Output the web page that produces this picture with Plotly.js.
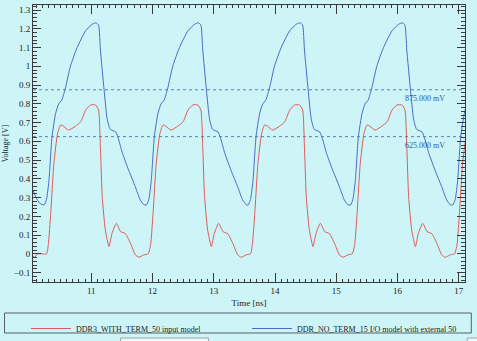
<!DOCTYPE html>
<html>
<head>
<meta charset="utf-8">
<script src="https://cdn.plot.ly/plotly-3.0.1.min.js"></script>
<style>
html,body{margin:0;padding:0;background:#cdf5f7;}
#chart{width:477px;height:341px;}
</style>
</head>
<body>
<div id="chart"></div>
<script>
// Time axis [ns] and voltages [V]
const seriesNames = ["DDR3_WITH_TERM_50 input model", "DDR_NO_TERM_15 I/O model with external 50"];

const redTime = [
  10.05,10.08,10.12,10.27,
  10.30,10.34,10.39,10.45,10.50,10.55,10.63,10.74,10.83,10.91,10.99,11.07,11.12,11.15,11.18,11.23,11.29,11.34,11.41,11.48,11.56,11.64,11.72,11.78,11.86,11.93,
  11.97,12.01,12.06,12.12,12.17,12.22,12.30,12.41,12.50,12.58,12.66,12.74,12.79,12.82,12.85,12.90,12.96,13.01,13.08,13.15,13.23,13.31,13.39,13.45,13.53,13.60,
  13.63,13.67,13.72,13.78,13.83,13.88,13.96,14.07,14.16,14.24,14.32,14.40,14.45,14.48,14.51,14.56,14.62,14.67,14.74,14.81,14.89,14.97,15.05,15.11,15.19,15.26,
  15.30,15.34,15.39,15.45,15.50,15.55,15.63,15.74,15.83,15.91,15.99,16.07,16.12,16.15,16.18,16.23,16.29,16.34,16.41,16.48,16.56,16.64,16.72,16.78,16.86,16.93,
  16.97,17.01,17.06,17.12
];
const redVolt = [
  -0.01,-0.02,0.0,0.0,
  0.05,0.22,0.48,0.64,0.687,0.68,0.66,0.68,0.705,0.767,0.794,0.794,0.767,0.57,0.305,0.128,0.039,0.11,0.163,0.119,0.107,0.057,-0.005,-0.018,-0.005,0.0,
  0.05,0.22,0.48,0.64,0.687,0.68,0.66,0.68,0.705,0.767,0.794,0.794,0.767,0.57,0.305,0.128,0.039,0.11,0.163,0.119,0.107,0.057,-0.005,-0.018,-0.005,0.0,
  0.05,0.22,0.48,0.64,0.687,0.68,0.66,0.68,0.705,0.767,0.794,0.794,0.767,0.57,0.305,0.128,0.039,0.11,0.163,0.119,0.107,0.057,-0.005,-0.018,-0.005,0.0,
  0.05,0.22,0.48,0.64,0.687,0.68,0.66,0.68,0.705,0.767,0.794,0.794,0.767,0.57,0.305,0.128,0.039,0.11,0.163,0.119,0.107,0.057,-0.005,-0.018,-0.005,0.0,
  0.05,0.22,0.48,0.64
];

const blueTime = [
  10.05,10.10,10.16,
  10.23,10.27,10.31,10.36,10.42,10.47,10.52,10.58,10.66,10.77,10.91,11.02,11.08,11.12,11.15,11.21,11.26,11.31,11.40,11.45,11.51,11.61,11.72,11.80,11.86,
  11.90,11.94,11.98,12.03,12.09,12.14,12.19,12.25,12.33,12.44,12.58,12.69,12.75,12.79,12.82,12.88,12.93,12.98,13.07,13.12,13.18,13.28,13.39,13.47,13.53,
  13.56,13.60,13.64,13.69,13.75,13.80,13.85,13.91,13.99,14.10,14.24,14.35,14.41,14.45,14.48,14.54,14.59,14.64,14.73,14.78,14.84,14.94,15.05,15.13,15.19,
  15.23,15.27,15.31,15.36,15.42,15.47,15.52,15.58,15.66,15.77,15.91,16.02,16.08,16.12,16.15,16.21,16.26,16.31,16.40,16.45,16.51,16.61,16.72,16.80,16.86,
  16.90,16.94,16.98,17.03,17.09,17.14
];
const blueVolt = [
  0.34,0.30,0.27,
  0.26,0.29,0.39,0.625,0.75,0.80,0.82,0.885,1.00,1.10,1.19,1.225,1.232,1.22,1.087,0.875,0.72,0.664,0.65,0.607,0.536,0.447,0.358,0.288,0.262,
  0.26,0.29,0.39,0.625,0.75,0.80,0.82,0.885,1.00,1.10,1.19,1.225,1.232,1.22,1.087,0.875,0.72,0.664,0.65,0.607,0.536,0.447,0.358,0.288,0.262,
  0.26,0.29,0.39,0.625,0.75,0.80,0.82,0.885,1.00,1.10,1.19,1.225,1.232,1.22,1.087,0.875,0.72,0.664,0.65,0.607,0.536,0.447,0.358,0.288,0.262,
  0.26,0.29,0.39,0.625,0.75,0.80,0.82,0.885,1.00,1.10,1.19,1.225,1.232,1.22,1.087,0.875,0.72,0.664,0.65,0.607,0.536,0.447,0.358,0.288,0.262,
  0.26,0.29,0.39,0.625,0.75,0.80
];

const thresholdValues = [0.875, 0.625];
const thresholdLabels = ["875.000 mV", "625.000 mV"];
const xTickValues = [11, 12, 13, 14, 15, 16, 17];
const yTickValues = [-0.1, 0, 0.1, 0.2, 0.3, 0.4, 0.5, 0.6, 0.7, 0.8, 0.9, 1, 1.1, 1.2, 1.3];

const serif = "Liberation Serif, Times New Roman, serif";
const axisColor = "#3a3a3a";

const traces = [
  {x: redTime, y: redVolt, name: seriesNames[0], type: "scatter", mode: "lines", legend: "legend",
   line: {color: "#df5a5a", width: 1, shape: "spline", smoothing: 0.5}},
  {x: blueTime, y: blueVolt, name: seriesNames[1], type: "scatter", mode: "lines", legend: "legend2",
   line: {color: "#4a6bc6", width: 1, shape: "spline", smoothing: 0.5}}
];

const shapes = thresholdValues.map(v => ({
  type: "line", xref: "paper", x0: 0, x1: 1, yref: "y", y0: v, y1: v,
  line: {color: "#5b7db8", width: 1, dash: "dot"}
}));
// legend frame
shapes.push({type: "rect", xref: "paper", yref: "paper",
  x0: -0.0659, x1: 1.0146, y0: -0.1841, y1: -0.1119,
  line: {color: "#56606a", width: 1}, fillcolor: "rgba(0,0,0,0)"});
// partial boxes along bottom edge
shapes.push({type: "rect", xref: "paper", yref: "paper",
  x0: 0.2025, x1: 0.4061, y0: -0.2022, y1: -0.24,
  line: {color: "#9aa4aa", width: 1}, fillcolor: "#eef8f8"});
shapes.push({type: "rect", xref: "paper", yref: "paper",
  x0: 1.0053, x1: 1.05, y0: -0.2022, y1: -0.24,
  line: {color: "#9aa4aa", width: 1}, fillcolor: "#eef8f8"});

const annotations = thresholdValues.map((v, i) => ({
  x: 16.44, y: v - 0.049, xref: "x", yref: "y", text: thresholdLabels[i],
  showarrow: false, font: {family: serif, size: 8, color: "#3655a8"}
}));

const legendBase = {
  orientation: "h", xref: "container", yref: "container",
  y: 1 - 314 / 341, xanchor: "left", yanchor: "top",
  bgcolor: "rgba(0,0,0,0)", borderwidth: 0,
  itemwidth: 40,
  font: {family: serif, size: 8, color: "#222"}
};

const layout = {
  width: 477, height: 341,
  margin: {l: 32.5, r: 12.3, t: 5, b: 59},
  paper_bgcolor: "#cdf5f7",
  plot_bgcolor: "#cdf5f7",
  showlegend: true,
  legend: Object.assign({}, legendBase, {x: 26 / 477}),
  legend2: Object.assign({}, legendBase, {x: 247 / 477}),
  xaxis: {
    range: [10.05, 17.1],
    tickvals: xTickValues,
    ticks: "inside", ticklen: 9, tickcolor: axisColor, tickwidth: 1,
    minor: {dtick: 0.1, tick0: 0, ticks: "inside", ticklen: 3, tickcolor: axisColor, showgrid: false},
    showline: true, linecolor: axisColor, linewidth: 1, mirror: "ticks",
    showgrid: false, zeroline: false,
    tickfont: {family: serif, size: 9, color: "#222"},
    title: {text: "Time [ns]", font: {family: serif, size: 9, color: "#222"}, standoff: 4}
  },
  yaxis: {
    range: [-0.15, 1.327],
    tickvals: yTickValues,
    ticks: "inside", ticklen: 8, tickcolor: axisColor, tickwidth: 1,
    minor: {dtick: 0.02, tick0: 0, ticks: "inside", ticklen: 4, tickcolor: axisColor, showgrid: false},
    showline: true, linecolor: axisColor, linewidth: 1, mirror: "ticks",
    showgrid: false, zeroline: false,
    tickfont: {family: serif, size: 9, color: "#222"},
    title: {text: "Voltage [V]", font: {family: serif, size: 8, color: "#222"}, standoff: 4}
  },
  shapes: shapes,
  annotations: annotations
};

Plotly.newPlot("chart", traces, layout, {displayModeBar: false, staticPlot: true});
</script>
</body>
</html>
